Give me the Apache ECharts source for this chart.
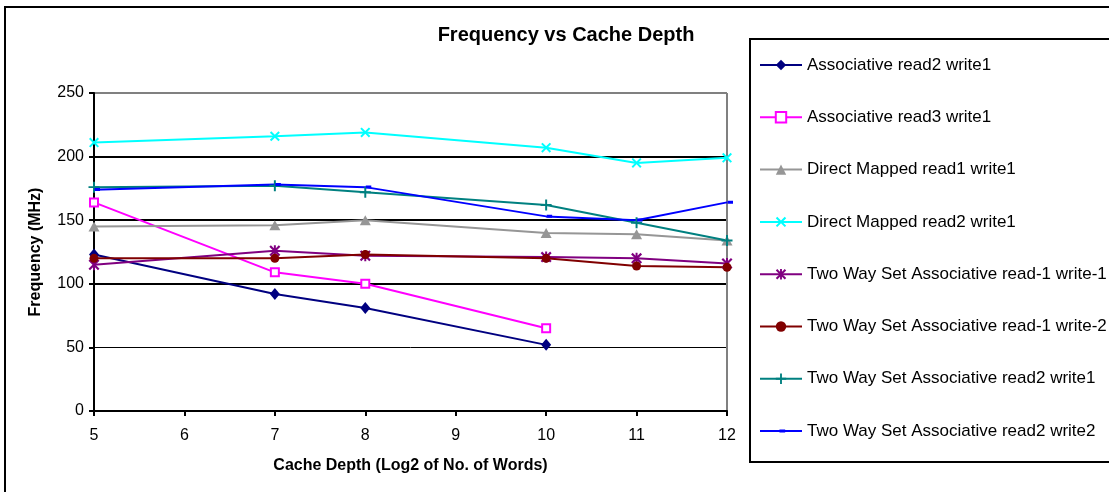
<!DOCTYPE html>
<html>
<head>
<meta charset="utf-8">
<script src="https://cdn.jsdelivr.net/npm/echarts@6/dist/echarts.min.js"></script>
<style>
html,body{margin:0;padding:0;background:#fff;}
#chart{width:1109px;height:492px;}
</style>
</head>
<body>
<div id="chart"></div>
<script>
// ---- data ----
const xFull = [5, 7, 8, 10, 11, 12];
const xShort = [5, 7, 8, 10];
const yTicks = [0, 50, 100, 150, 200, 250];
const xTicks = [5, 6, 7, 8, 9, 10, 11, 12];

const seriesNames = [
  'Associative read2 write1',
  'Associative read3 write1',
  'Direct Mapped read1 write1',
  'Direct Mapped read2 write1',
  'Two Way Set Associative read-1 write-1',
  'Two Way Set Associative read-1 write-2',
  'Two Way Set Associative read2 write1',
  'Two Way Set Associative read2 write2'
];
const assocR2W1 = [123, 92, 81, 52];
const assocR3W1 = [164, 109, 100, 65];
const directR1W1 = [145, 146, 150, 140, 139, 134];
const directR2W1 = [211, 216, 219, 207, 195, 199];
const twoWayR1W1 = [115, 126, 122, 121, 120, 116];
const twoWayR1W2 = [120, 120, 123, 120, 114, 113];
const twoWayR2W1 = [176, 177, 172, 162, 148, 134];
const twoWayR2W2 = [174, 178, 176, 153, 150, 164];

// ---- styles ----
const FONT = '"Liberation Sans", Arial, sans-serif';
const SYM_X = 'path://M0,1.4L1.4,0L5,3.6L8.6,0L10,1.4L6.4,5L10,8.6L8.6,10L5,6.4L1.4,10L0,8.6L3.6,5Z';
const SYM_STAR = 'path://M0,1.4L1.4,0L5,3.6L8.6,0L10,1.4L6.4,5L10,8.6L8.6,10L5,6.4L1.4,10L0,8.6L3.6,5Z M4.1,0L5.9,0L5.9,10L4.1,10Z';
const SYM_PLUS = 'path://M4.1,0H5.9V4.1H10V5.9H5.9V10H4.1V5.9H0V4.1H4.1Z';
const SYM_DASH = 'path://M0,0L0.01,0L0.01,0.01Z M3.5,3.4H9V6.4H3.5Z M10,10L9.99,10L9.99,9.99Z';

function pairs(xs, ys) { return ys.map((v, i) => [xs[i], v]); }

const specs = [
  {name: seriesNames[0], xs: xShort, ys: assocR2W1, color: '#000080', symbol: 'diamond', size: [10, 12]},
  {name: seriesNames[1], xs: xShort, ys: assocR3W1, color: '#FF00FF', symbol: 'emptyRect', size: 8, border: 2},
  {name: seriesNames[2], xs: xFull, ys: directR1W1, color: '#969696', symbol: 'triangle', size: [11, 10]},
  {name: seriesNames[3], xs: xFull, ys: directR2W1, color: '#00FFFF', symbol: SYM_X, size: 10},
  {name: seriesNames[4], xs: xFull, ys: twoWayR1W1, color: '#800080', symbol: SYM_STAR, size: 11},
  {name: seriesNames[5], xs: xFull, ys: twoWayR1W2, color: '#800000', symbol: 'circle', size: 9},
  {name: seriesNames[6], xs: xFull, ys: twoWayR2W1, color: '#008080', symbol: SYM_PLUS, size: 11},
  {name: seriesNames[7], xs: xFull, ys: twoWayR2W2, color: '#0000FF', symbol: SYM_DASH, size: 10, offset: [2, 0]}
];

const series = specs.map(s => ({
  name: s.name,
  type: 'line',
  data: pairs(s.xs, s.ys),
  symbol: s.symbol,
  symbolSize: s.size,
  symbolOffset: s.offset || [0, 0],
  showAllSymbol: true,
  lineStyle: {color: s.color, width: 2},
  itemStyle: {color: s.color, borderColor: s.color, borderWidth: s.border || 0},
  emphasis: {disabled: true},
  animation: false
}));

const chart = echarts.init(document.getElementById('chart'), null, {renderer: 'canvas'});
chart.setOption({
  backgroundColor: '#ffffff',
  animation: false,
  textStyle: {fontFamily: FONT},
  title: {
    text: 'Frequency vs Cache Depth',
    left: 561, top: 20, textAlign: 'center',
    textStyle: {fontFamily: FONT, fontSize: 20, fontWeight: 'bold', color: '#000'}
  },
  graphic: [
    {type: 'rect', z: -1, shape: {x: 5, y: 7, width: 1200, height: 500},
     style: {fill: null, stroke: '#000', lineWidth: 2}},
    {type: 'rect', z: -1, shape: {x: 750, y: 39, width: 500, height: 423},
     style: {fill: null, stroke: '#000', lineWidth: 2}}
  ],
  legend: {
    orient: 'vertical',
    left: 759, top: 55,
    itemWidth: 42, itemHeight: 13, itemGap: 32.3,
    padding: 0,
    data: seriesNames,
    lineStyle: {width: 2},
    textStyle: {fontFamily: FONT, fontSize: 17, color: '#000', lineHeight: 20},
    selectedMode: false
  },
  grid: {left: 94, right: 382, top: 93, bottom: 81, containLabel: false},
  xAxis: {
    type: 'value', min: xTicks[0], max: xTicks[xTicks.length - 1], interval: 1,
    name: 'Cache Depth (Log2 of No. of Words)',
    nameLocation: 'middle', nameGap: 47,
    nameTextStyle: {fontFamily: FONT, fontSize: 16, fontWeight: 'bold', color: '#000'},
    axisLine: {lineStyle: {color: '#000', width: 2}},
    axisTick: {show: true, length: 5, lineStyle: {color: '#000', width: 2}},
    axisLabel: {margin: 17, fontSize: 16, color: '#000', fontFamily: FONT},
    splitLine: {show: true, lineStyle: {color: ['transparent','transparent','transparent','transparent','transparent','transparent','transparent','#808080'], width: 2}}
  },
  yAxis: [
    {
      type: 'value', min: yTicks[0], max: yTicks[yTicks.length - 1], interval: 50,
      name: 'Frequency (MHz)',
      nameLocation: 'middle', nameGap: 50,
      nameTextStyle: {fontFamily: FONT, fontSize: 16, fontWeight: 'bold', color: '#000'},
      axisLine: {show: true, lineStyle: {color: '#000', width: 2}},
      axisTick: {show: true, length: 5, lineStyle: {color: '#000', width: 2}},
      axisLabel: {margin: 10, fontSize: 16, color: '#000', fontFamily: FONT},
      splitLine: {show: true, lineStyle: {color: ['#000', '#000', '#000', '#000', '#000', '#808080'], width: 1}}
    },
    {
      type: 'value', min: yTicks[0], max: yTicks[yTicks.length - 1], interval: 50,
      position: 'left',
      axisLine: {show: false}, axisTick: {show: false}, axisLabel: {show: false},
      splitLine: {show: true, lineStyle: {color: ['transparent', 'transparent', '#000', '#000', '#000', '#808080'], width: 2}}
    }
  ],
  series: series
});
</script>
</body>
</html>
